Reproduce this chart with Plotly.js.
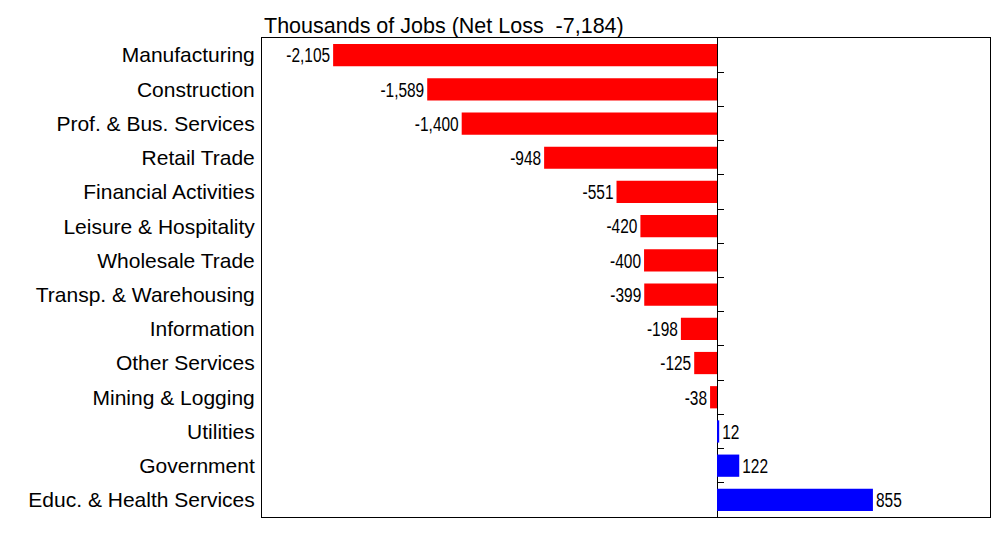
<!DOCTYPE html>
<html>
<head>
<meta charset="utf-8">
<script src="https://cdn.plot.ly/plotly-3.0.1.min.js"></script>
<style>html,body{margin:0;padding:0;background:#fff;}#chart{width:1004px;height:539px;}</style>
</head>
<body>
<div id="chart"></div>
<script>
const categories = ["Manufacturing","Construction","Prof. & Bus. Services","Retail Trade","Financial Activities","Leisure & Hospitality","Wholesale Trade","Transp. & Warehousing","Information","Other Services","Mining & Logging","Utilities","Government","Educ. & Health Services"];
const values = [-2105,-1589,-1400,-948,-551,-420,-400,-399,-198,-125,-38,12,122,855];
const netLoss = values.reduce((a,b)=>a+b,0);
const boundaryTicks = categories.slice(1).map((c,i)=>i+0.5);

const colors = values.map(v => v < 0 ? '#ff0000' : '#0000ff');
const fmt = n => (n<0?'-':'') + Math.abs(n).toLocaleString('en-US');

const trace = {
  type:'bar', orientation:'h',
  x: values, y: categories,
  marker:{color:colors, line:{width:0}},
  text: values.map(fmt),
  textposition:'outside',
  cliponaxis:false,
  textfont:{family:'"Liberation Sans Narrow","Arial Narrow","Liberation Sans",Arial,sans-serif', size:20.5, color:'#000'},
  hoverinfo:'none'
};
const dummy = {type:'scatter', x:[0], y:[0], yaxis:'y2', mode:'markers', marker:{opacity:0}, hoverinfo:'none', showlegend:false};

const xr = [-2495, 1497];
const layout = {
  width:1004, height:539,
  margin:{l:262, r:14, t:38, b:22},
  paper_bgcolor:'#fff', plot_bgcolor:'#fff',
  showlegend:false,
  bargap:0.35,
  title:{text:'Thousands of Jobs (Net Loss\u00a0 ' + fmt(netLoss) + ')', x:264/1004, xanchor:'left', y:1-25/539, yanchor:'middle',
    font:{family:'"Liberation Sans",Arial,sans-serif', size:21.5, color:'#000'}},
  xaxis:{range:xr, showticklabels:false, ticks:'', showgrid:false, zeroline:true, zerolinecolor:'#000', zerolinewidth:1,
    showline:true, mirror:true, linecolor:'#000', linewidth:1, fixedrange:true},
  yaxis:{autorange:'reversed', showgrid:false, showline:true, mirror:true, linecolor:'#000', linewidth:1, ticks:'',
    ticklabelstandoff:2,
    tickfont:{family:'"Liberation Sans",Arial,sans-serif', size:21, color:'#000'}, fixedrange:true},
  yaxis2:{overlaying:'y', anchor:'free', side:'right', position:(0-xr[0])/(xr[1]-xr[0]),
    range:[13.5,-0.5], showgrid:false, zeroline:false, showline:false, showticklabels:false,
    ticks:'outside', ticklen:6, tickwidth:1, tickcolor:'#000', tickvals:boundaryTicks, fixedrange:true}
};
Plotly.newPlot('chart',[trace,dummy],layout,{displayModeBar:false, staticPlot:true}).then(function(){
  // condense bar value labels to mimic a narrow face
  const pts = document.querySelectorAll('.trace.bars .point');
  pts.forEach(function(pt, i){
    const t = pt.querySelector('text');
    if(!t) return;
    const w = t.getComputedTextLength();
    const k = 0.78;
    t.setAttribute('textLength', (w*k).toFixed(2));
    t.setAttribute('lengthAdjust', 'spacingAndGlyphs');
    const x0 = parseFloat(t.getAttribute('x') || '0');
    const dx = w*(1-k)/2 * (values[i] < 0 ? 1 : -1);
    t.setAttribute('x', (x0 + dx).toFixed(2));
  });
});
</script>
</body>
</html>
